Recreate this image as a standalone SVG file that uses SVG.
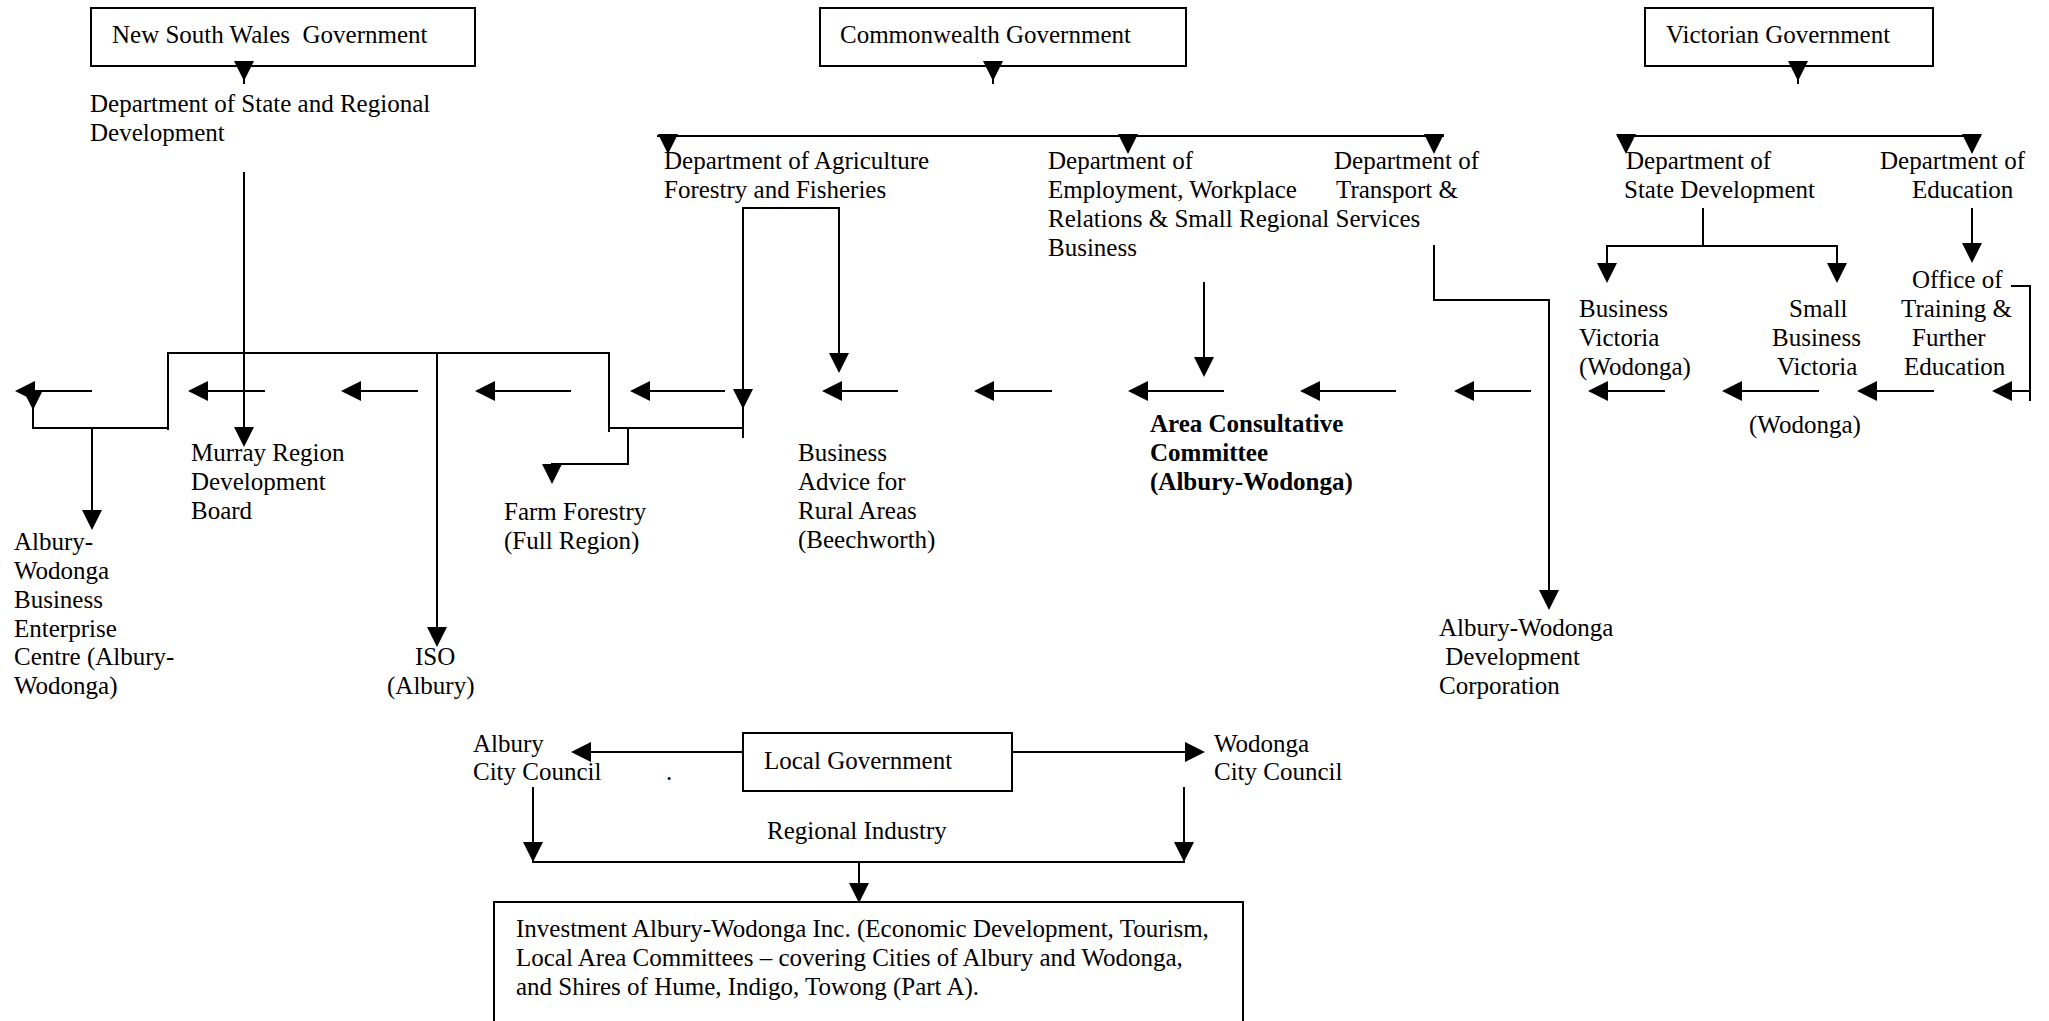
<svg xmlns="http://www.w3.org/2000/svg" xmlns:xlink="http://www.w3.org/1999/xlink" width="2049" height="1021" viewBox="0 0 2049 1021">
<style>
.t{font-family:"Liberation Serif","Times New Roman",serif;font-size:25px;fill:#000;white-space:pre}
.b{font-weight:bold}
.box{fill:#fff;stroke:#000;stroke-width:2}
.ln{fill:none;stroke:#000;stroke-width:2}
.hd{fill:#000;stroke:none}
</style>
<defs>
<polygon id="dn" class="hd" points="-10,-20 10,-20 0,0"/>
<polygon id="lt" class="hd" points="0,0 20,-10 20,10"/>
<polygon id="rt" class="hd" points="0,0 -20,-10 -20,10"/>
</defs>
<rect width="2049" height="1021" fill="#fff"/>

<g id="nsw-gov"><rect class="box" x="91" y="8" width="384" height="58"/><text class="t" x="112" y="43">New South Wales  Government</text></g>
<g id="cw-gov"><rect class="box" x="820" y="8" width="366" height="58"/><text class="t" x="840" y="43">Commonwealth Government</text></g>
<g id="vic-gov"><rect class="box" x="1645" y="8" width="288" height="58"/><text class="t" x="1666" y="43">Victorian Government</text></g>

<g id="nsw-dsrd"><text class="t"><tspan x="90" y="112">Department of State and Regional</tspan><tspan x="90" y="141">Development</tspan></text></g>
<g id="daff"><text class="t"><tspan x="664" y="169">Department of Agriculture</tspan><tspan x="664" y="198">Forestry and Fisheries</tspan></text></g>
<g id="dewrsb"><text class="t"><tspan x="1048" y="169">Department of</tspan><tspan x="1048" y="198">Employment, Workplace</tspan><tspan x="1048" y="227">Relations &amp; Small</tspan><tspan x="1048" y="256">Business</tspan></text></g>
<g id="dotrs"><text class="t"><tspan x="1334" y="169">Department of</tspan><tspan x="1336" y="198">Transport &amp;</tspan><tspan x="1239" y="227">Regional Services</tspan></text></g>
<g id="dsd"><text class="t"><tspan x="1626" y="169">Department of</tspan><tspan x="1624" y="198">State Development</tspan></text></g>
<g id="doe"><text class="t"><tspan x="1880" y="169">Department of</tspan><tspan x="1912" y="198">Education</tspan></text></g>

<g id="otfe"><text class="t"><tspan x="1912" y="288">Office of</tspan><tspan x="1901" y="317">Training &amp;</tspan><tspan x="1912" y="346">Further</tspan><tspan x="1904" y="375">Education</tspan></text></g>
<g id="bus-vic"><text class="t"><tspan x="1579" y="317">Business</tspan><tspan x="1579" y="346">Victoria</tspan><tspan x="1579" y="375">(Wodonga)</tspan></text></g>
<g id="sbv"><text class="t"><tspan x="1789" y="317">Small</tspan><tspan x="1772" y="346">Business</tspan><tspan x="1777" y="375">Victoria</tspan><tspan x="1749" y="433">(Wodonga)</tspan></text></g>

<g id="awbec"><text class="t"><tspan x="14" y="550">Albury-</tspan><tspan x="14" y="579">Wodonga</tspan><tspan x="14" y="608">Business</tspan><tspan x="14" y="637">Enterprise</tspan><tspan x="14" y="665">Centre (Albury-</tspan><tspan x="14" y="694">Wodonga)</tspan></text></g>
<g id="mrdb"><text class="t"><tspan x="191" y="461">Murray Region</tspan><tspan x="191" y="490">Development</tspan><tspan x="191" y="519">Board</tspan></text></g>
<g id="iso"><text class="t"><tspan x="415" y="665">ISO</tspan><tspan x="387" y="694">(Albury)</tspan></text></g>
<g id="farm"><text class="t"><tspan x="504" y="520">Farm Forestry</tspan><tspan x="504" y="549">(Full Region)</tspan></text></g>
<g id="bara"><text class="t"><tspan x="798" y="461">Business</tspan><tspan x="798" y="490">Advice for</tspan><tspan x="798" y="519">Rural Areas</tspan><tspan x="798" y="548">(Beechworth)</tspan></text></g>
<g id="acc"><text class="t b"><tspan x="1150" y="432">Area Consultative</tspan><tspan x="1150" y="461">Committee</tspan><tspan x="1150" y="490">(Albury-Wodonga)</tspan></text></g>
<g id="awdc"><text class="t"><tspan x="1439" y="636">Albury-Wodonga</tspan><tspan x="1439" y="665"> Development</tspan><tspan x="1439" y="694">Corporation</tspan></text></g>

<g id="local-gov"><rect class="box" x="743" y="733" width="269" height="58"/><text class="t" x="764" y="769">Local Government</text></g>
<g id="albury-cc"><text class="t"><tspan x="473" y="752">Albury</tspan><tspan x="473" y="780">City Council</tspan></text><text class="t" x="666" y="780">.</text></g>
<g id="wodonga-cc"><text class="t"><tspan x="1214" y="752">Wodonga</tspan><tspan x="1214" y="780">City Council</tspan></text></g>
<g id="regional-industry"><text class="t" x="767" y="839">Regional Industry</text></g>
<g id="iawi"><rect class="box" x="494" y="902" width="749" height="140"/><text class="t"><tspan x="516" y="937">Investment Albury-Wodonga Inc. (Economic Development, Tourism,</tspan><tspan x="516" y="966">Local Area Committees – covering Cities of Albury and Wodonga,</tspan><tspan x="516" y="995">and Shires of Hume, Indigo, Towong (Part A).</tspan></text></g>

<g id="connectors">
<path class="ln" d="M244,65 V84 M993,65 V84 M1798,65 V84"/>
<use href="#dn" x="244" y="81"/><use href="#dn" x="993" y="81"/><use href="#dn" x="1798" y="81"/>
<path class="ln" d="M657,136 H1444 M1617,136 H1981"/>
<use href="#dn" x="668" y="154"/><use href="#dn" x="1128" y="154"/><use href="#dn" x="1434" y="154"/>
<use href="#dn" x="1626" y="154"/><use href="#dn" x="1972" y="154"/>
<path class="ln" d="M244,172 V445"/><use href="#dn" x="244" y="447"/>
<path class="ln" d="M168,430 V353 H609 V432"/>
<path class="ln" d="M437,353 V645"/><use href="#dn" x="437" y="647"/>
<path class="ln" d="M168,428 H33 V407"/><use href="#dn" x="33" y="410"/>
<path class="ln" d="M92,428 V528"/><use href="#dn" x="92" y="530"/>
<path class="ln" d="M609,428 H744 M628,428 V464 H552 V470"/><use href="#dn" x="552" y="484"/>
<path class="ln" d="M743,438 V208 H839 V371"/><use href="#dn" x="743" y="409"/><use href="#dn" x="839" y="373"/>
<path class="ln" d="M1204,282 V375"/><use href="#dn" x="1204" y="377"/>
<path class="ln" d="M1434,245 V300 H1549 V608"/><use href="#dn" x="1549" y="610"/>
<path class="ln" d="M1703,208 V246 M1607,281 V246 H1837 V281"/><use href="#dn" x="1607" y="283"/><use href="#dn" x="1837" y="283"/>
<path class="ln" d="M1972,208 V261"/><use href="#dn" x="1972" y="263"/>
<path class="ln" d="M2011,286 H2030 V401"/>
<path class="ln" d="M18,391 H92 M191,391 H265 M344,391 H418 M478,391 H571 M633,391 H725 M825,391 H898 M977,391 H1052 M1131,391 H1224 M1303,391 H1396 M1457,391 H1531 M1591,391 H1665 M1725,391 H1819 M1860,391 H1934 M1995,391 H2030"/>
<use href="#lt" x="15" y="391"/><use href="#lt" x="188" y="391"/><use href="#lt" x="341" y="391"/><use href="#lt" x="475" y="391"/><use href="#lt" x="630" y="391"/><use href="#lt" x="822" y="391"/><use href="#lt" x="974" y="391"/><use href="#lt" x="1128" y="391"/><use href="#lt" x="1300" y="391"/><use href="#lt" x="1454" y="391"/><use href="#lt" x="1588" y="391"/><use href="#lt" x="1722" y="391"/><use href="#lt" x="1857" y="391"/><use href="#lt" x="1992" y="391"/>
<path class="ln" d="M743,752 H575 M1012,752 H1200"/><use href="#lt" x="571" y="752"/><use href="#rt" x="1205" y="752"/>
<path class="ln" d="M533,787 V862 H1184 V787 M859,862 V900"/>
<use href="#dn" x="533" y="862"/><use href="#dn" x="1184" y="862"/><use href="#dn" x="859" y="903"/>
</g>
</svg>
